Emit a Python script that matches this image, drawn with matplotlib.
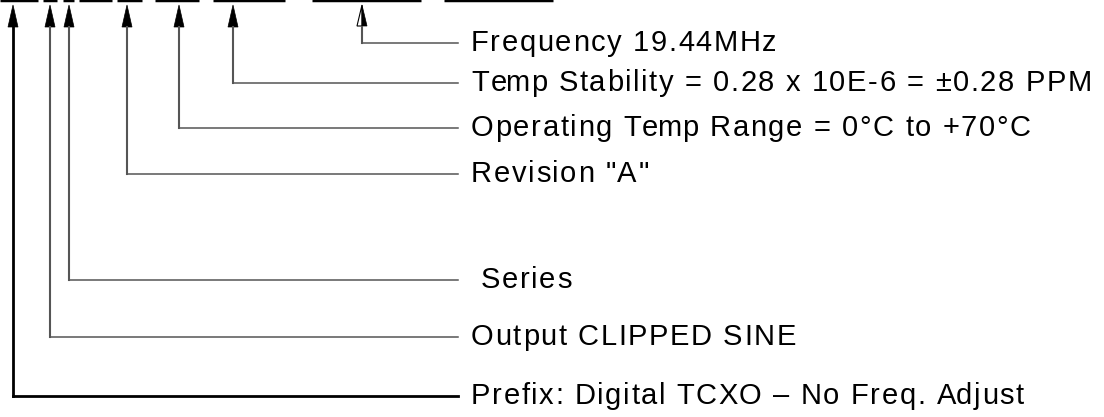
import matplotlib.pyplot as plt
from matplotlib.patches import Polygon
from matplotlib.font_manager import FontProperties

# labels, from top to bottom
labels = [
    "Frequency 19.44MHz",
    "Temp Stability = 0.28 x 10E-6 = \u00b10.28 PPM",
    "Operating Temp Range = 0\u00b0C to +70\u00b0C",
    'Revision "A"',
    " Series",
    "Output CLIPPED SINE",
    "Prefix: Digital TCXO \u2013 No Freq. Adjust",
]
arrow_x = [362, 233, 179, 127, 69, 50, 13]
level_y = [43, 83, 128, 174, 280, 337, 396]

# underline segments of the part number (cut off at the top)
seg_start = [0, 43, 63, 79, 117, 155, 213, 312, 444]
seg_end = [38, 57, 74, 112, 142, 199, 285, 421, 553]

plt.rcParams['font.family'] = ['Liberation Sans', 'DejaVu Sans']

fig = plt.figure(figsize=(11.04, 4.17), dpi=100)
ax = fig.add_axes([0, 0, 1, 1])
ax.set_xlim(0, 1104)
ax.set_ylim(417, 0)
ax.axis('off')
renderer = fig.canvas.get_renderer()

for a, b in zip(seg_start, seg_end):
    ax.plot([a, b], [0, 0], color='black', lw=2.5, solid_capstyle='butt')

line_end = 458
text_x = 471
fsize = 21
track = 1.6  # extra letter spacing in px
prop = FontProperties(family='Liberation Sans', size=fsize)
bar_w = renderer.get_text_width_height_descent("|", prop, ismath=False)[0]

for i, (lab, x, y) in enumerate(zip(labels, arrow_x, level_y)):
    last = i == len(labels) - 1
    col = 'black' if last else '#555555'
    ax.plot([x, x], [27, y], color=col, lw=2.0 if last else 1.5)
    ax.plot([x, line_end], [y, y], color=col, lw=2.0 if last else 1.1)
    if i == 0:
        # half open arrow head
        ax.add_patch(Polygon([[x, 5], [x - 5, 26], [x, 26]], closed=True,
                             facecolor='white', edgecolor='black', lw=0.8))
        ax.add_patch(Polygon([[x, 5], [x + 5, 26], [x, 26]], closed=True,
                             facecolor='black', edgecolor='black', lw=0.5))
    else:
        ax.add_patch(Polygon([[x, 5], [x - 5, 27], [x + 5, 27]], closed=True,
                             facecolor='black', edgecolor='black', lw=0.5))
    # place characters one by one to get the wide letter spacing
    for k, ch in enumerate(lab):
        if ch == ' ':
            continue
        w = renderer.get_text_width_height_descent(lab[:k] + "|", prop, ismath=False)[0] - bar_w
        ax.text(text_x + w + k * track, y + 8, ch, fontproperties=prop,
                va='baseline', ha='left', color='black')

fig.savefig('out.png', dpi=100, facecolor='white')
